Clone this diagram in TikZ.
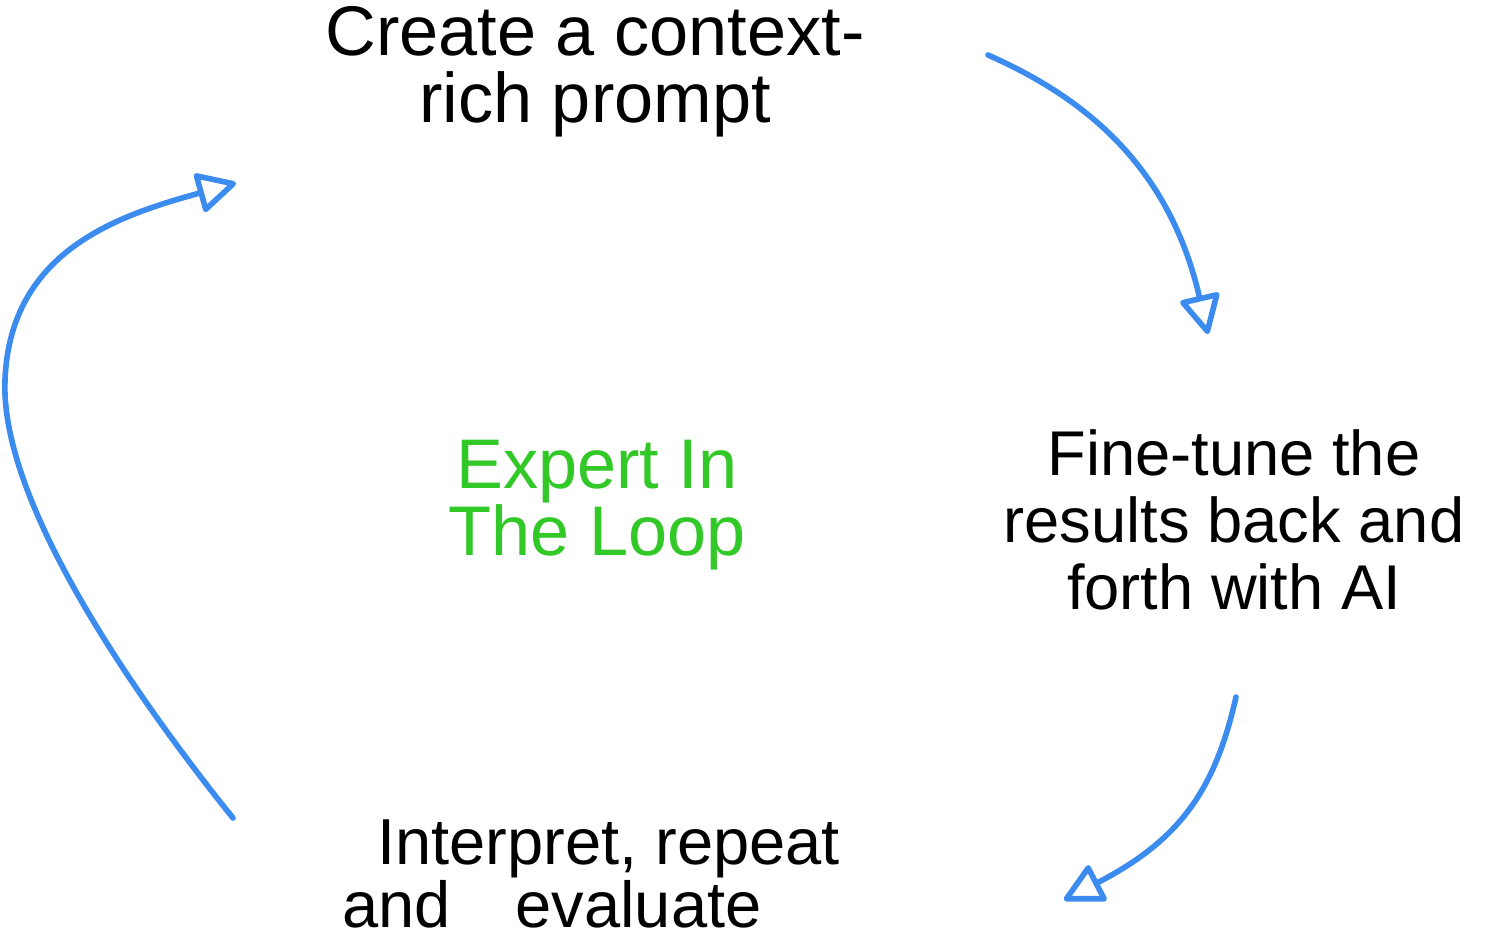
\documentclass[tikz,border=0pt]{standalone}
\usepackage{fontspec}
\setmainfont{Liberation Sans}
\usetikzlibrary{arrows.meta}
\definecolor{loopblue}{RGB}{60,140,240}
\definecolor{loopgreen}{RGB}{50,200,40}
\tikzstyle{note} = [align=center, inner sep=0pt, font=\fontsize{40}{38}\selectfont]
\tikzstyle{arrow} = [draw=loopblue, line width=3.2pt, line cap=round, -{Triangle[open,round,length=0.85cm,width=0.85cm]}]

\begin{document}
\begin{tikzpicture}[x=0.02cm, y=-0.02cm]
\useasboundingbox (0,0) rectangle (1488,944);

\node (prompt) [note] at (595,72) {Create a context-\\rich prompt};

\node (loop) [note, text=loopgreen] at (597,505) {Expert In\\The Loop};

\node (tune) [note, font=\fontsize{36}{38}\selectfont] at (1234,520) {Fine-tune the\\results back and\\forth with AI};

\node (interp) [note, align=left, font=\fontsize{37}{36}\selectfont, anchor=west] at (342,874) {\hspace{0.7cm}Interpret, repeat\\and\hspace{1.3cm}evaluate};

\coordinate (a1) at (988,55);
\coordinate (b1) at (1208,334);
\coordinate (a2) at (1236,697);
\coordinate (b2) at (1064,900);
\coordinate (a3) at (233,818);
\coordinate (m3) at (5,380);
\coordinate (b3) at (236,183);

\draw [arrow] (a1) .. controls (1090,100) and (1170,170) .. (b1);
\draw [arrow] (a2) .. controls (1215,790) and (1180,840) .. (b2);
\draw [arrow] (a3) .. controls (130,690) and (0,500) .. (m3) .. controls (10,250) and (120,215) .. (b3);

\end{tikzpicture}
\end{document}
